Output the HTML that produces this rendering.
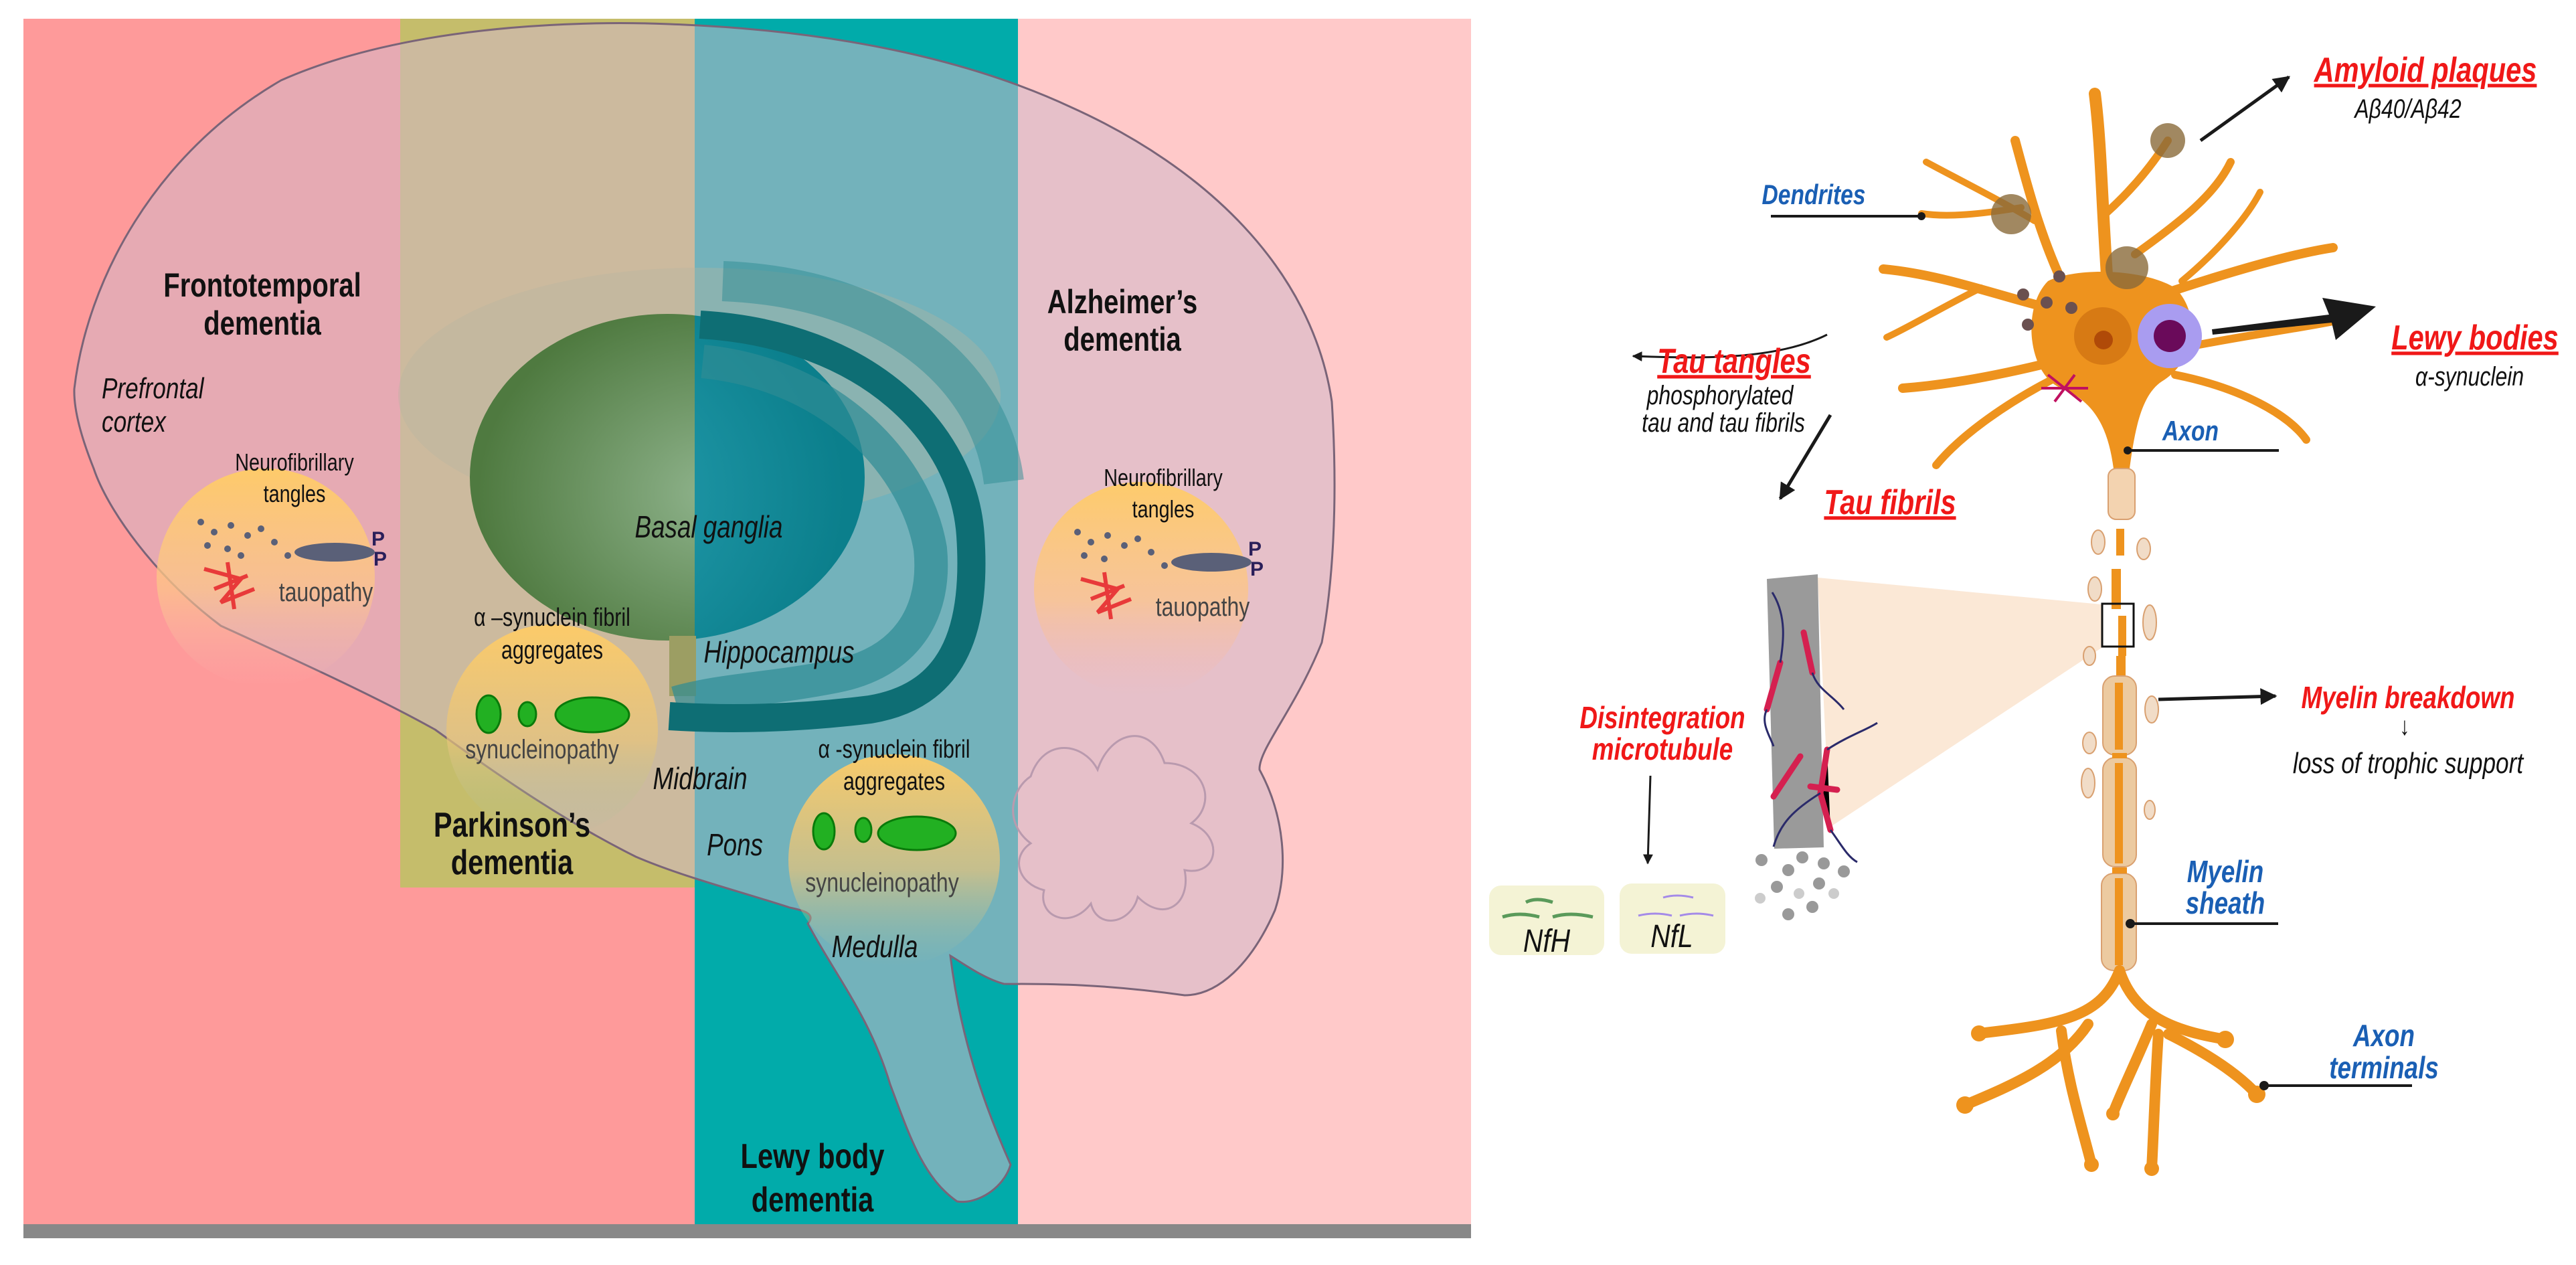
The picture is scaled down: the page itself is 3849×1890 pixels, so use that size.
<!DOCTYPE html>
<html><head><meta charset="utf-8"><style>
html,body{margin:0;padding:0;background:#fff;}
svg{display:block;}
.n{font-family:"Liberation Sans Narrow","Liberation Sans",sans-serif;}
</style></head><body>
<svg width="3849" height="1890" viewBox="0 0 3849 1890" xmlns="http://www.w3.org/2000/svg">
<defs>
<clipPath id="brain"><path id="bp" d="M111,581 C130,420 230,230 420,120 C600,40 850,30 1000,36 C1250,45 1450,90 1600,160 C1800,250 1960,400 1990,600 C2000,760 1990,880 1975,960 C1935,1060 1880,1120 1882,1150 C1920,1220 1925,1300 1905,1360 C1870,1440 1820,1487 1770,1487 C1650,1470 1570,1470 1500,1470 C1470,1462 1440,1440 1420,1428 C1435,1550 1470,1650 1510,1740 C1500,1775 1460,1800 1430,1795 C1380,1760 1360,1700 1330,1620 C1300,1520 1250,1460 1207,1380 C1220,1365 1200,1360 1180,1356 C1100,1330 1020,1310 950,1280 C850,1230 760,1170 650,1090 C560,1040 450,990 330,935 C230,860 160,760 140,700 C120,650 110,610 111,581 Z"/></clipPath>
<radialGradient id="sphG" cx="0.62" cy="0.55" r="0.6"><stop offset="0" stop-color="#8fb38c"/><stop offset="1" stop-color="#4f7a40"/></radialGradient>
<radialGradient id="sphT" cx="0.2" cy="0.55" r="0.75"><stop offset="0" stop-color="#2aa3b5"/><stop offset="1" stop-color="#0b7f8c"/></radialGradient>
<linearGradient id="circ" x1="0" y1="0" x2="0" y2="1"><stop offset="0" stop-color="#ffcc66" stop-opacity="0.95"/><stop offset="0.55" stop-color="#fcc58a" stop-opacity="0.75"/><stop offset="1" stop-color="#f5b5b5" stop-opacity="0"/></linearGradient>
<linearGradient id="circ2" x1="0" y1="0" x2="0" y2="1"><stop offset="0" stop-color="#ffcc66" stop-opacity="0.95"/><stop offset="0.55" stop-color="#e8c47a" stop-opacity="0.7"/><stop offset="1" stop-color="#a0c0a0" stop-opacity="0"/></linearGradient>
<marker id="ah" viewBox="0 0 10 10" refX="9" refY="5" markerWidth="5" markerHeight="5" orient="auto"><path d="M0,0 L10,5 L0,10 Z" fill="#1a1a1a"/></marker>
</defs>

<rect x="35" y="28" width="563" height="1801" fill="#fe9a9a"/>
<rect x="598" y="1326" width="440" height="503" fill="#fe9a9a"/>
<rect x="598" y="28" width="440" height="1298" fill="#c5bd6b"/>
<rect x="1038" y="28" width="483" height="1801" fill="#01abaa"/>
<rect x="1521" y="28" width="677" height="1801" fill="#ffc9c9"/>
<rect x="35" y="1829" width="2163" height="21" fill="#888"/>

<use href="#bp" fill="#d2b8c8" fill-opacity="0.55" stroke="#7a6478" stroke-width="3"/>
<g clip-path="url(#brain)">
  <path d="M1540,1160 C1560,1100 1620,1110 1640,1150 C1660,1090 1720,1080 1740,1140 C1800,1140 1820,1200 1780,1230 C1830,1250 1820,1310 1770,1300 C1780,1350 1740,1380 1700,1340 C1690,1380 1640,1390 1630,1350 C1600,1390 1550,1370 1560,1330 C1520,1320 1510,1280 1540,1260 C1500,1230 1510,1180 1540,1160 Z" fill="none" stroke="#b99aae" stroke-width="3"/>
</g>
<ellipse cx="1045" cy="590" rx="450" ry="190" fill="#b5b5a0" fill-opacity="0.35"/>
<clipPath id="lh"><rect x="0" y="0" width="1038" height="1890"/></clipPath>
<clipPath id="rh"><rect x="1038" y="0" width="600" height="1890"/></clipPath>
<ellipse cx="997" cy="713" rx="295" ry="244" fill="url(#sphG)" clip-path="url(#lh)"/>
<ellipse cx="997" cy="713" rx="295" ry="244" fill="url(#sphT)" clip-path="url(#rh)"/>
<rect x="1000" y="950" width="40" height="90" fill="#9c9e63"/>
<path d="M1050,540 C1250,560 1370,700 1390,820 C1400,920 1350,990 1250,1010 C1150,1030 1080,1030 1010,1050" fill="none" stroke="#2d8c94" stroke-width="50" stroke-opacity="0.7"/>
<path d="M1046,485 C1300,500 1440,650 1450,800 C1460,950 1420,1040 1300,1060 C1180,1075 1080,1075 1000,1070" fill="none" stroke="#0e6e74" stroke-width="42"/>
<path d="M1080,420 C1330,430 1480,560 1500,720" fill="none" stroke="#2d8c94" stroke-width="60" stroke-opacity="0.5"/>

<circle cx="397" cy="863" r="163" fill="url(#circ)"/>
<circle cx="1705" cy="880" r="160" fill="url(#circ)"/>
<circle cx="825" cy="1091" r="158" fill="url(#circ2)"/>
<circle cx="1336" cy="1285" r="158" fill="url(#circ2)"/>

<g fill="#5a6078">
<ellipse cx="500" cy="825" rx="60" ry="14"/><ellipse cx="1810" cy="840" rx="60" ry="14"/>
<circle cx="300" cy="780" r="5"/><circle cx="320" cy="795" r="5"/><circle cx="345" cy="785" r="5"/><circle cx="370" cy="800" r="5"/><circle cx="390" cy="790" r="5"/><circle cx="410" cy="810" r="5"/><circle cx="430" cy="830" r="5"/><circle cx="310" cy="815" r="5"/><circle cx="340" cy="820" r="5"/><circle cx="360" cy="830" r="5"/>
<circle cx="1610" cy="795" r="5"/><circle cx="1630" cy="810" r="5"/><circle cx="1655" cy="800" r="5"/><circle cx="1680" cy="815" r="5"/><circle cx="1700" cy="805" r="5"/><circle cx="1720" cy="825" r="5"/><circle cx="1740" cy="845" r="5"/><circle cx="1620" cy="830" r="5"/><circle cx="1650" cy="835" r="5"/>
</g>
<g stroke="#e83a3a" stroke-width="6" fill="none">
<path d="M305,850 L360,865 L330,900 L380,880 M340,840 L350,910 M320,880 L370,860"/>
<path d="M1615,865 L1670,880 L1640,915 L1690,895 M1650,855 L1660,925 M1630,895 L1680,875"/>
</g>
<g class="n" font-size="30" font-weight="bold" fill="#2a1f5a"><text x="555" y="815">P</text><text x="558" y="845">P</text><text x="1865" y="830">P</text><text x="1868" y="860">P</text></g>
<g fill="#22b022" stroke="#0a7a0a" stroke-width="3">
<ellipse cx="730" cy="1067" rx="18" ry="28"/><ellipse cx="788" cy="1067" rx="13" ry="18"/><ellipse cx="885" cy="1068" rx="55" ry="26"/>
<ellipse cx="1231" cy="1242" rx="16" ry="27"/><ellipse cx="1290" cy="1240" rx="12" ry="18"/><ellipse cx="1370" cy="1245" rx="58" ry="25"/>
</g>

<g class="n" fill="#111" text-anchor="middle">
<text transform="translate(392,443) scale(0.8,1)" font-size="50" font-weight="bold">Frontotemporal</text>
<text transform="translate(392,500) scale(0.8,1)" font-size="50" font-weight="bold">dementia</text>
<text transform="translate(152,595) scale(0.8,1)" font-size="44" font-style="italic" text-anchor="start">Prefrontal</text>
<text transform="translate(152,645) scale(0.8,1)" font-size="44" font-style="italic" text-anchor="start">cortex</text>
<text transform="translate(440,703) scale(0.8,1)" font-size="36">Neurofibrillary</text>
<text transform="translate(440,750) scale(0.8,1)" font-size="36">tangles</text>
<text transform="translate(487,898) scale(0.8,1)" font-size="40" fill="#444">tauopathy</text>
<text transform="translate(1677,468) scale(0.8,1)" font-size="50" font-weight="bold">Alzheimer’s</text>
<text transform="translate(1677,524) scale(0.8,1)" font-size="50" font-weight="bold">dementia</text>
<text transform="translate(1738,726) scale(0.8,1)" font-size="36">Neurofibrillary</text>
<text transform="translate(1738,773) scale(0.8,1)" font-size="36">tangles</text>
<text transform="translate(1797,920) scale(0.8,1)" font-size="40" fill="#444">tauopathy</text>
<text transform="translate(1059,803) scale(0.8,1)" font-size="46" font-style="italic">Basal ganglia</text>
<text transform="translate(1164,990) scale(0.8,1)" font-size="46" font-style="italic">Hippocampus</text>
<text transform="translate(1046,1179) scale(0.8,1)" font-size="46" font-style="italic">Midbrain</text>
<text transform="translate(1098,1278) scale(0.8,1)" font-size="46" font-style="italic">Pons</text>
<text transform="translate(1307,1430) scale(0.8,1)" font-size="46" font-style="italic">Medulla</text>
<text transform="translate(825,935) scale(0.8,1)" font-size="38">α –synuclein fibril</text>
<text transform="translate(825,984) scale(0.8,1)" font-size="38">aggregates</text>
<text transform="translate(810,1133) scale(0.8,1)" font-size="40" fill="#444">synucleinopathy</text>
<text transform="translate(1336,1132) scale(0.8,1)" font-size="38">α -synuclein fibril</text>
<text transform="translate(1336,1180) scale(0.8,1)" font-size="38">aggregates</text>
<text transform="translate(1318,1332) scale(0.8,1)" font-size="40" fill="#444">synucleinopathy</text>
<text transform="translate(765,1250) scale(0.8,1)" font-size="52" font-weight="bold">Parkinson’s</text>
<text transform="translate(765,1306) scale(0.8,1)" font-size="52" font-weight="bold">dementia</text>
<text transform="translate(1214,1745) scale(0.8,1)" font-size="52" font-weight="bold">Lewy body</text>
<text transform="translate(1214,1810) scale(0.8,1)" font-size="52" font-weight="bold">dementia</text>
</g>

<polygon points="2716,863 3140,903 3140,968 2734,1236" fill="#fbe8d6"/>
<polygon points="2640,865 2716,858 2725,1266 2651,1268" fill="#9a9a9a"/>
<g stroke="#d52050" stroke-width="9" stroke-linecap="round"><path d="M2660,990 L2640,1060"/><path d="M2695,945 L2708,1005"/><path d="M2690,1130 L2650,1190"/><path d="M2730,1120 L2720,1185 L2735,1240"/><path d="M2705,1175 L2745,1180"/></g>
<g stroke="#2a2a6a" stroke-width="3" fill="none"><path d="M2648,885 C2670,920 2665,960 2660,990"/><path d="M2640,1060 C2630,1080 2645,1100 2650,1115"/><path d="M2708,1005 C2715,1030 2740,1040 2755,1060"/><path d="M2730,1120 C2760,1100 2790,1090 2805,1080"/><path d="M2720,1185 C2680,1210 2660,1230 2650,1265"/><path d="M2735,1240 C2750,1260 2760,1280 2775,1288"/></g>
<g fill="#999"><circle cx="2632" cy="1285" r="9"/><circle cx="2693" cy="1281" r="9"/><circle cx="2725" cy="1290" r="9"/><circle cx="2672" cy="1300" r="9"/><circle cx="2755" cy="1302" r="9"/><circle cx="2655" cy="1325" r="9"/><circle cx="2718" cy="1320" r="9"/><circle cx="2688" cy="1335" r="8" fill="#ccc"/><circle cx="2740" cy="1335" r="8" fill="#ccc"/><circle cx="2630" cy="1342" r="8" fill="#ccc"/><circle cx="2708" cy="1355" r="9"/><circle cx="2672" cy="1366" r="9"/></g>

<g stroke="#ee931e" stroke-linecap="round" fill="none">
<path d="M3150,440 C3140,300 3140,220 3130,140" stroke-width="18"/>
<path d="M3145,320 C3190,280 3220,240 3239,210" stroke-width="12"/>
<path d="M3190,380 C3260,330 3310,290 3333,242" stroke-width="12"/>
<path d="M3090,440 C3050,360 3030,280 3011,210" stroke-width="14"/>
<path d="M3040,330 C2990,300 2930,270 2878,242" stroke-width="10"/>
<path d="M3020,310 C2960,320 2910,325 2871,319" stroke-width="10"/>
<path d="M3060,460 C2980,440 2900,410 2814,402" stroke-width="14"/>
<path d="M2960,430 C2900,460 2850,490 2819,504" stroke-width="10"/>
<path d="M3070,540 C2990,560 2910,575 2843,580" stroke-width="14"/>
<path d="M3080,560 C3000,600 2930,650 2893,695" stroke-width="12"/>
<path d="M3230,440 C3320,410 3420,380 3486,370" stroke-width="14"/>
<path d="M3260,420 C3320,370 3360,320 3377,287" stroke-width="10"/>
<path d="M3260,520 C3360,500 3440,490 3496,478" stroke-width="12"/>
<path d="M3250,560 C3350,580 3420,620 3446,657" stroke-width="12"/>
</g>
<path d="M3060,420 C3100,400 3200,400 3250,430 C3290,470 3280,540 3230,570 C3200,590 3190,640 3182,700 L3158,700 C3150,640 3130,600 3080,580 C3030,560 3020,460 3060,420 Z" fill="#ee931e"/>
<circle cx="3142" cy="502" r="43" fill="#d77a14"/><circle cx="3143" cy="508" r="14" fill="#b04a08"/>
<circle cx="3242" cy="502" r="48" fill="#a99cf0"/><circle cx="3242" cy="502" r="24" fill="#6a0a5a"/>
<g fill="#8a6a3a" fill-opacity="0.8"><circle cx="3239" cy="210" r="26"/><circle cx="3005" cy="320" r="30"/><circle cx="3178" cy="400" r="32"/></g>
<g fill="#6a5050"><circle cx="3023" cy="440" r="9"/><circle cx="3077" cy="413" r="9"/><circle cx="3058" cy="452" r="9"/><circle cx="3095" cy="460" r="9"/><circle cx="3030" cy="485" r="9"/></g>
<path d="M3060,560 L3110,600 M3070,600 L3100,560 M3050,580 L3120,580" stroke="#c01060" stroke-width="4"/>

<rect x="3150" y="700" width="40" height="76" rx="12" fill="#f3d3b0" stroke="#d9a070" stroke-width="2"/>
<g fill="#ee931e"><rect x="3162" y="790" width="12" height="40"/><rect x="3155" y="850" width="14" height="60"/><rect x="3165" y="920" width="12" height="60"/><rect x="3162" y="980" width="14" height="40"/></g>
<g fill="#f1dcc7" stroke="#d9a070" stroke-width="2"><ellipse cx="3135" cy="810" rx="10" ry="18"/><ellipse cx="3203" cy="820" rx="10" ry="16"/><ellipse cx="3130" cy="880" rx="10" ry="18"/><ellipse cx="3212" cy="930" rx="10" ry="26"/><ellipse cx="3122" cy="980" rx="9" ry="14"/><ellipse cx="3215" cy="1060" rx="10" ry="20"/><ellipse cx="3122" cy="1110" rx="10" ry="16"/><ellipse cx="3120" cy="1170" rx="10" ry="22"/><ellipse cx="3212" cy="1210" rx="8" ry="14"/></g>
<rect x="3142" y="1010" width="50" height="118" rx="18" fill="#eccaa0" stroke="#d9a070" stroke-width="2"/>
<rect x="3142" y="1132" width="50" height="163" rx="18" fill="#eccaa0" stroke="#d9a070" stroke-width="2"/>
<rect x="3140" y="1305" width="52" height="145" rx="18" fill="#eccaa0" stroke="#d9a070" stroke-width="2"/>
<g fill="#ee931e"><rect x="3156" y="1125" width="22" height="8"/><rect x="3156" y="1296" width="22" height="9"/><rect x="3160" y="1020" width="12" height="100"/><rect x="3160" y="1140" width="12" height="150"/><rect x="3160" y="1312" width="12" height="130"/></g>
<rect x="3141" y="902" width="47" height="64" fill="none" stroke="#111" stroke-width="3"/>
<g stroke="#ee931e" stroke-linecap="round" fill="none" stroke-width="16">
<path d="M3167,1450 C3140,1520 3080,1530 2957,1544"/>
<path d="M3120,1530 C3080,1590 3010,1620 2936,1651"/>
<path d="M3080,1540 C3090,1620 3110,1680 3125,1740"/>
<path d="M3167,1450 C3190,1520 3250,1540 3325,1553"/>
<path d="M3215,1530 C3190,1590 3170,1630 3157,1664"/>
<path d="M3240,1545 C3290,1570 3340,1600 3372,1635"/>
<path d="M3225,1545 C3220,1620 3218,1690 3215,1746"/>
</g>
<g fill="#ee931e"><circle cx="2957" cy="1544" r="12"/><circle cx="2936" cy="1651" r="13"/><circle cx="3125" cy="1740" r="11"/><circle cx="3325" cy="1553" r="13"/><circle cx="3157" cy="1664" r="10"/><circle cx="3372" cy="1635" r="13"/><circle cx="3215" cy="1746" r="11"/></g>

<g stroke="#1a1a1a" stroke-width="4" fill="none">
<path d="M2646,323 L2871,323"/><path d="M3179,673 L3405,673"/><path d="M3183,1380 L3404,1380"/><path d="M3383,1622 L3604,1622"/>
<path d="M3288,210 L3420,115" marker-end="url(#ah)" stroke-width="5"/>
<path d="M2730,500 C2650,540 2530,535 2440,532" marker-end="url(#ah)" stroke-width="3"/>
<path d="M2735,620 L2660,745" marker-end="url(#ah)" stroke-width="5"/>
<path d="M3225,1045 L3400,1040" marker-end="url(#ah)" stroke-width="5"/>
<path d="M2466,1159 L2462,1290" stroke-width="3" marker-end="url(#ah)"/>
</g>
<path d="M3305,492 L3480,470 L3470,445 L3550,458 L3490,508 L3484,482 L3306,500 Z" fill="#1a1a1a"/>
<g fill="#1a1a1a"><circle cx="2871" cy="323" r="6"/><circle cx="3179" cy="673" r="6"/><circle cx="3183" cy="1380" r="7"/><circle cx="3383" cy="1622" r="7"/></g>

<rect x="2225" y="1323" width="172" height="104" rx="18" fill="#f4f3d5"/>
<rect x="2420" y="1320" width="158" height="105" rx="18" fill="#f4f3d5"/>
<g stroke="#5a9a5a" stroke-width="5" fill="none"><path d="M2280,1348 q15,-8 40,0"/><path d="M2245,1370 q25,-8 55,0"/><path d="M2320,1370 q25,-8 60,0"/></g>
<g stroke="#a48ae8" stroke-width="3" fill="none"><path d="M2485,1341 q20,-6 45,0"/><path d="M2448,1368 q25,-6 50,0"/><path d="M2510,1368 q25,-6 50,0"/></g>

<g class="n" font-style="italic" text-anchor="middle">
<text transform="translate(3624,122) scale(0.8,1)" font-size="52" font-weight="bold" fill="#f01818" text-decoration="underline">Amyloid plaques</text>
<text transform="translate(3598,176) scale(0.8,1)" font-size="40" fill="#111">Aβ40/Aβ42</text>
<text transform="translate(2710,305) scale(0.8,1)" font-size="42" font-weight="bold" fill="#1a5fb4">Dendrites</text>
<text transform="translate(3698,522) scale(0.8,1)" font-size="52" font-weight="bold" fill="#f01818" text-decoration="underline">Lewy bodies</text>
<text transform="translate(3690,576) scale(0.8,1)" font-size="40" fill="#111">α-synuclein</text>
<text transform="translate(2591,557) scale(0.8,1)" font-size="52" font-weight="bold" fill="#f01818" text-decoration="underline">Tau tangles</text>
<text transform="translate(2570,604) scale(0.8,1)" font-size="40" fill="#111">phosphorylated</text>
<text transform="translate(2575,645) scale(0.8,1)" font-size="40" fill="#111">tau and tau fibrils</text>
<text transform="translate(2824,768) scale(0.8,1)" font-size="52" font-weight="bold" fill="#f01818" text-decoration="underline">Tau fibrils</text>
<text transform="translate(3273,658) scale(0.8,1)" font-size="42" font-weight="bold" fill="#1a5fb4">Axon</text>
<text transform="translate(3598,1058) scale(0.8,1)" font-size="46" font-weight="bold" fill="#f01818">Myelin breakdown</text>
<text transform="translate(3593,1098) scale(0.8,1)" font-size="38" fill="#111">↓</text>
<text transform="translate(3598,1155) scale(0.8,1)" font-size="44" fill="#111">loss of trophic support</text>
<text transform="translate(2484,1088) scale(0.8,1)" font-size="46" font-weight="bold" fill="#f01818">Disintegration</text>
<text transform="translate(2484,1135) scale(0.8,1)" font-size="46" font-weight="bold" fill="#f01818">microtubule</text>
<text transform="translate(3325,1318) scale(0.8,1)" font-size="46" font-weight="bold" fill="#1a5fb4">Myelin</text>
<text transform="translate(3325,1365) scale(0.8,1)" font-size="46" font-weight="bold" fill="#1a5fb4">sheath</text>
<text transform="translate(3562,1563) scale(0.8,1)" font-size="46" font-weight="bold" fill="#1a5fb4">Axon</text>
<text transform="translate(3562,1611) scale(0.8,1)" font-size="46" font-weight="bold" fill="#1a5fb4">terminals</text>
<text transform="translate(2311,1422) scale(0.85,1)" font-size="48" fill="#111">NfH</text>
<text transform="translate(2498,1415) scale(0.85,1)" font-size="48" fill="#111">NfL</text>
</g>
</svg>
</body></html>
